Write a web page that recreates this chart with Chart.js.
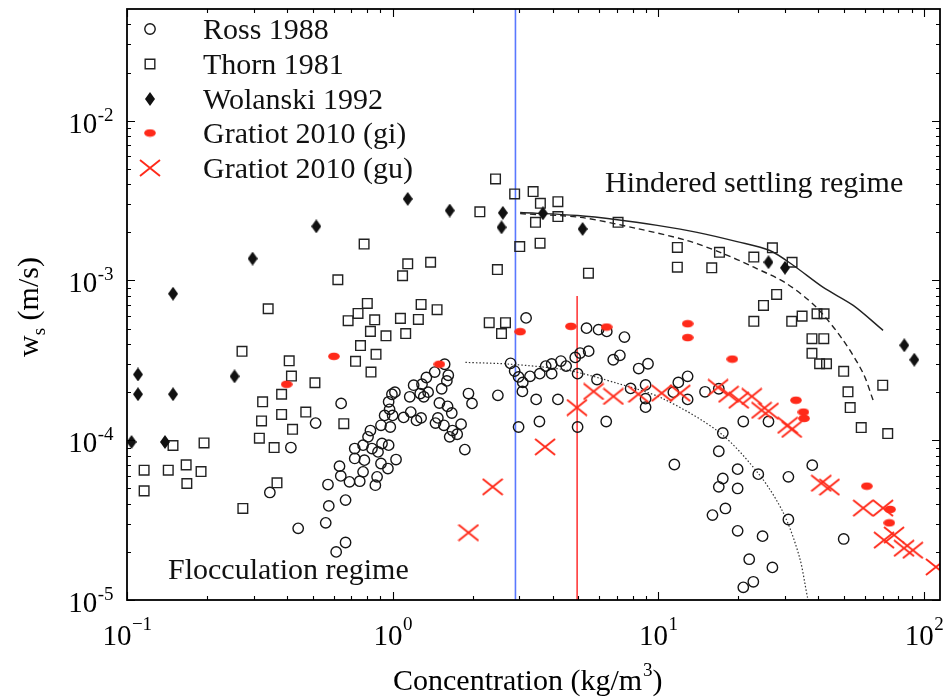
<!DOCTYPE html>
<html>
<head>
<meta charset="utf-8">
<script src="https://cdn.jsdelivr.net/npm/chart.js@4.4.1/dist/chart.umd.min.js"></script>
<style>
  html, body { margin: 0; padding: 0; background: #fff; }
</style>
</head>
<body>
<canvas id="chart" width="949" height="697"></canvas>
<script>
// --- data ---
const rossX = [0.345,0.414,0.441,0.513,0.560,0.575,0.571,0.613,0.665,0.665,
  0.640,0.631,0.638,0.688,0.752,0.774,0.720,0.720,0.783,0.774,
  0.836,0.808,0.825,0.881,0.912,0.966,0.904,0.874,0.861,0.960,
  1.03,0.904,0.933,0.980,1.00,0.974,0.966,0.994,1.02,1.10,
  1.16,1.17,1.20,1.23,1.57,1.62,1.60,1.53,1.44,1.34,
  1.29,1.36,1.27,1.31,1.28,1.50,1.61,1.67,1.48,1.45,
  1.56,1.68,1.64,1.75,1.81,1.87,1.93,1.99,3.18,2.78,
  2.88,2.98,3.09,3.29,3.58,3.77,3.97,4.30,4.50,3.97,
  4.87,5.08,5.47,4.97,5.37,5.96,6.40,7.46,6.77,7.17,
  8.44,9.15,5.88,8.96,7.87,8.96,8.96,3.08,3.47,4.19,
  2.49,2.98,3.57,4.97,6.37,11.9,12.9,11.4,12.9,15.0,
  16.9,17.5,20.9,26.0,11.5,16.9,17.5,16.9,19.9,19.9,
  23.8,30.9,38.0,30.9,17.9,16.0,19.9,24.7,22.0,26.9,
  22.8,20.9,49.9];
const rossY = [4.71e-5,9.0e-5,2.81e-5,1.28e-4,3.04e-5,3.88e-5,5.28e-5,2.0e-5,2.29e-5,4.22e-5,
  1.70e-4,6.88e-5,5.98e-5,5.49e-5,5.54e-5,6.34e-5,7.69e-5,8.87e-5,7.50e-5,9.31e-5,
  8.87e-5,1.05e-4,1.15e-4,8.45e-5,9.54e-5,9.31e-5,7.15e-5,5.90e-5,5.23e-5,6.65e-5,
  7.57e-5,1.24e-4,1.43e-4,1.21e-4,1.43e-4,1.56e-4,1.74e-4,1.94e-4,2.0e-4,1.39e-4,
  1.87e-4,1.50e-4,2.21e-4,1.33e-4,2.99e-4,2.55e-4,2.35e-4,2.10e-4,2.67e-4,2.47e-4,
  2.24e-4,2.0e-4,1.96e-4,1.87e-4,1.38e-4,1.71e-4,1.63e-4,1.48e-4,1.38e-4,1.28e-4,
  1.24e-4,1.15e-4,1.05e-4,1.09e-4,1.26e-4,8.74e-5,1.96e-4,1.70e-4,5.83e-4,3.03e-4,
  2.71e-4,2.49e-4,2.30e-4,2.51e-4,2.61e-4,2.91e-4,3.0e-4,3.13e-4,2.91e-4,2.61e-4,
  3.30e-4,3.51e-4,3.61e-4,2.61e-4,5.03e-4,4.92e-4,4.80e-4,4.42e-4,3.19e-4,3.40e-4,
  2.81e-4,3.01e-4,2.40e-4,2.22e-4,2.11e-4,1.82e-4,1.61e-4,2.02e-4,1.80e-4,1.80e-4,
  1.91e-4,1.21e-4,1.31e-4,1.21e-4,1.31e-4,2.30e-4,2.51e-4,2.0e-4,1.80e-4,2.01e-4,
  2.10e-4,1.11e-4,1.31e-4,1.31e-4,7.05e-5,8.53e-5,5.76e-5,5.11e-5,6.59e-5,4.99e-5,
  6.13e-5,5.90e-5,6.98e-5,3.19e-5,3.74e-5,3.40e-5,2.71e-5,2.51e-5,1.80e-5,1.60e-5,
  1.30e-5,1.20e-5,2.41e-5];

const thornX = [0.116,0.116,0.149,0.143,0.167,0.168,0.190,0.195,0.273,0.315,
  0.321,0.324,0.358,0.367,0.382,0.382,0.420,0.471,0.510,0.655,
  0.271,0.340,0.408,0.416,0.622,0.781,0.680,0.741,0.803,0.856,
  0.825,0.757,0.725,0.829,0.866,0.944,1.07,1.12,1.09,1.14,
  1.28,1.25,1.39,1.47,2.13,2.44,2.88,3.38,3.60,4.19,
  4.19,3.45,3.01,3.59,2.48,2.31,2.66,2.57,5.46,7.06,
  11.8,11.8,15.9,17.0,22.9,26.9,31.9,27.9,24.9,22.9,
  31.8,34.8,39.6,42.1,37.9,42.0,37.9,40.5,43.0,49.9,
  51.8,52.8,58.1,70.0,73.1];
const thornY = [6.49e-5,4.82e-5,9.27e-5,6.49e-5,7.01e-5,5.36e-5,6.37e-5,9.62e-5,3.74e-5,1.03e-4,
  1.32e-4,1.74e-4,8.99e-5,5.41e-5,1.94e-4,1.45e-4,1.17e-4,1.50e-4,2.29e-4,1.27e-4,
  3.60e-4,6.65e-4,3.14e-4,2.52e-4,1.01e-3,1.69e-3,5.60e-4,6.22e-4,7.18e-4,5.67e-4,
  4.80e-4,3.91e-4,3.12e-4,2.67e-4,3.45e-4,4.50e-4,5.79e-4,4.65e-4,1.07e-3,1.27e-3,
  7.08e-4,5.70e-4,1.30e-3,6.56e-4,2.69e-3,4.32e-3,3.48e-3,3.60e-3,3.04e-3,3.11e-3,
  2.51e-3,2.31e-3,1.63e-3,1.71e-3,1.17e-3,5.44e-4,5.44e-4,4.65e-4,1.11e-3,2.31e-3,
  1.61e-3,1.21e-3,1.20e-3,1.50e-3,1.40e-3,1.60e-3,1.30e-3,8.18e-4,6.98e-4,5.55e-4,
  5.55e-4,5.98e-4,6.19e-4,6.19e-4,4.32e-4,4.32e-4,3.50e-4,3.01e-4,3.01e-4,2.70e-4,
  2.01e-4,1.60e-4,1.20e-4,2.21e-4,1.10e-4];

const wolanskiX = [0.104,0.110,0.110,0.139,0.149,0.149,0.254,0.297,0.516,1.14,
  1.64,2.60,2.57,3.68,5.19,26.0,30.0,84.4,92.0];
const wolanskiY = [9.75e-5,2.58e-4,1.94e-4,9.75e-5,1.94e-4,8.26e-4,2.51e-4,1.37e-3,2.18e-3,3.24e-3,
  2.74e-3,2.65e-3,2.15e-3,2.63e-3,2.10e-3,1.30e-3,1.20e-3,3.93e-4,3.19e-4];

const giX = [0.399,0.601,1.50,3.02,4.69,6.39,12.9,12.9,19.0,33.0,35.2,35.4,61.0,74.6,74.1];
const giY = [2.24e-4,3.35e-4,2.99e-4,4.78e-4,5.16e-4,5.11e-4,5.36e-4,4.39e-4,3.22e-4,1.78e-4,
  1.50e-4,1.37e-4,5.16e-5,3.69e-5,3.04e-5];

const guX = [1.93,2.38,3.75,4.94,5.71,6.78,8.42,10.3,12.1,16.8,18.4,20.1,22.5,24.5,26.0,
  30.7,31.8,41.1,44.1,59.1,70.2,70.8,77.2,84.2,90.9,111];
const guY = [2.64e-5,5.11e-5,9.08e-5,1.60e-4,2.02e-4,1.88e-4,1.94e-4,1.97e-4,1.97e-4,2.14e-4,
  1.94e-4,1.78e-4,1.88e-4,1.54e-4,1.52e-4,1.24e-4,1.17e-4,5.38e-5,5.09e-5,3.76e-5,
  3.76e-5,2.37e-5,2.55e-5,2.11e-5,2.05e-5,1.61e-5];

// model curves
const solidX = [3.02,4.97,7.02,9.92,14.0,19.8,26.3,32.3,41.8,54.2,70.2];
const solidY = [2.66e-3,2.55e-3,2.40e-3,2.21e-3,2.0e-3,1.75e-3,1.54e-3,1.24e-3,9.04e-4,6.98e-4,4.87e-4];
const dashX = [3.02,5.10,8.35,12.8,17.1,22.9,30.4,39.4,49.7,59.1,64.4];
const dashY = [2.62e-3,2.48e-3,2.11e-3,1.78e-3,1.50e-3,1.21e-3,9.57e-4,6.78e-4,4.22e-4,2.62e-4,1.78e-4];
const dotX = [1.88,2.79,4.56,7.02,10.35,17.1,24.1,29.6,34.0,36.5,36.8];
const dotY = [3.07e-4,2.99e-4,2.74e-4,2.27e-4,1.83e-4,1.11e-4,6.04e-5,3.50e-5,1.86e-5,1.03e-5,1.0e-5];

// vertical markers
const blueX = [2.9, 2.9];
const blueY = [1e-5, 0.05];
const redX = [4.95, 4.95];
const redY = [1e-5, 8.0e-4];

const legendLabels = ['Ross 1988', 'Thorn 1981', 'Wolanski 1992', 'Gratiot 2010 (gi)', 'Gratiot 2010 (gu)'];
const xDecades = [0.1, 1, 10, 100];
const xDecadeExp = ['\u22121', '0', '1', '2'];
const yDecades = [1e-5, 1e-4, 1e-3, 1e-2];
const yDecadeExp = ['-5', '-4', '-3', '-2'];
const minorSteps = [2, 3, 4, 5, 6, 7, 8, 9];

const RED = '#ff2a1a';
const FONT = '"Liberation Serif", "Times New Roman", serif';

function pts(xs, ys) { return xs.map((v, i) => ({ x: v, y: ys[i] })); }

function markCanvas(w, h, draw) {
    const c = document.createElement('canvas');
    c.width = w; c.height = h;
    draw(c.getContext('2d'), w, h);
    return c;
}
const diamondImg = markCanvas(10, 14, (g, w, h) => {
    g.fillStyle = '#111';
    g.beginPath();
    g.moveTo(w / 2, 0); g.lineTo(w, h / 2); g.lineTo(w / 2, h); g.lineTo(0, h / 2);
    g.closePath(); g.fill();
});
const blobImg = markCanvas(12, 9, (g, w, h) => {
    g.fillStyle = RED;
    g.beginPath();
    g.ellipse(w / 2, h / 2, 5.8, 3.8, 0, 0, 2 * Math.PI);
    g.fill();
});
const crossImg = markCanvas(22, 18, (g, w, h) => {
    g.strokeStyle = RED; g.lineWidth = 1.9;
    g.beginPath();
    g.moveTo(1, 1); g.lineTo(w - 1, h - 1);
    g.moveTo(w - 1, 1); g.lineTo(1, h - 1);
    g.stroke();
});

const markerStyles = [
    { pointStyle: 'circle', radius: 5.2, borderWidth: 1.4, borderColor: '#151515', backgroundColor: 'rgba(0,0,0,0)' },
    { pointStyle: 'rect', radius: 6.8, borderWidth: 1.4, borderColor: '#222', backgroundColor: 'rgba(0,0,0,0)' },
    { pointStyle: diamondImg, radius: 6, borderWidth: 0, borderColor: '#111', backgroundColor: '#111' },
    { pointStyle: blobImg, radius: 5, borderWidth: 0, borderColor: RED, backgroundColor: RED },
    { pointStyle: crossImg, radius: 9, borderWidth: 0, borderColor: RED, backgroundColor: RED }
];

function scatterSet(i, xs, ys) {
    const m = markerStyles[i];
    return {
        label: legendLabels[i],
        data: pts(xs, ys),
        showLine: false,
        pointStyle: m.pointStyle,
        pointRadius: m.radius,
        pointBorderWidth: m.borderWidth,
        pointBorderColor: m.borderColor,
        pointBackgroundColor: m.backgroundColor
    };
}

function lineSet(xs, ys, color, width, dash, tension) {
    return {
        data: pts(xs, ys),
        showLine: true,
        pointRadius: 0,
        borderColor: color,
        borderWidth: width,
        borderDash: dash,
        tension: tension,
        fill: false
    };
}

function drawPow(ctx, exp, x, baseY, align, baseSize, expSize, supRise) {
    ctx.font = baseSize + 'px ' + FONT;
    const w10 = ctx.measureText('10').width;
    ctx.font = expSize + 'px ' + FONT;
    const wExp = ctx.measureText(exp).width;
    const total = w10 + wExp;
    let left = align === 'right' ? x - total : x - total / 2;
    ctx.textAlign = 'left';
    ctx.textBaseline = 'alphabetic';
    ctx.font = baseSize + 'px ' + FONT;
    ctx.fillText('10', left, baseY);
    ctx.font = expSize + 'px ' + FONT;
    ctx.fillText(exp, left + w10 + 0.5, baseY - supRise);
}

// frame, inward ticks, labels, legend, annotations
const decorPlugin = {
    id: 'decor',
    afterDraw(chart) {
        const { ctx, chartArea: a, scales } = chart;
        const xs = scales.x, ys = scales.y;
        ctx.save();
        ctx.strokeStyle = '#000';
        ctx.fillStyle = '#000';

        // ticks
        ctx.lineWidth = 1.1;
        const xTick = (v, len) => {
            const px = Math.round(xs.getPixelForValue(v)) + 0.5;
            ctx.beginPath();
            ctx.moveTo(px, a.bottom); ctx.lineTo(px, a.bottom - len);
            ctx.moveTo(px, a.top); ctx.lineTo(px, a.top + len);
            ctx.stroke();
        };
        const yTick = (v, len) => {
            const py = Math.round(ys.getPixelForValue(v)) + 0.5;
            ctx.beginPath();
            ctx.moveTo(a.left, py); ctx.lineTo(a.left + len, py);
            ctx.moveTo(a.right, py); ctx.lineTo(a.right - len, py);
            ctx.stroke();
        };
        xDecades.forEach(d => {
            if (d >= xs.min && d <= xs.max) xTick(d, 8);
            minorSteps.forEach(m => { const v = d * m; if (v > xs.min && v < xs.max) xTick(v, 4); });
        });
        yDecades.forEach(d => {
            if (d >= ys.min && d <= ys.max) yTick(d, 8);
            minorSteps.forEach(m => { const v = d * m; if (v > ys.min && v < ys.max) yTick(v, 4); });
        });

        // frame
        ctx.lineWidth = 1.8;
        ctx.strokeRect(a.left, a.top, a.right - a.left, a.bottom - a.top);

        // tick labels
        xDecades.forEach((d, i) => {
            const px = xs.getPixelForValue(d);
            drawPow(ctx, xDecadeExp[i], px, 645, 'center', 29, 19, 15);
        });
        yDecades.forEach((d, i) => {
            const py = ys.getPixelForValue(d);
            drawPow(ctx, yDecadeExp[i], 113, py + 12, 'right', 29, 19, 12);
        });

        // x title
        ctx.textAlign = 'left';
        ctx.textBaseline = 'alphabetic';
        ctx.font = '30px ' + FONT;
        let tx = 393;
        const t1 = 'Concentration (kg/m';
        ctx.fillText(t1, tx, 690);
        tx += ctx.measureText(t1).width;
        ctx.font = '19px ' + FONT;
        ctx.fillText('3', tx + 1, 676);
        tx += ctx.measureText('3').width + 1;
        ctx.font = '30px ' + FONT;
        ctx.fillText(')', tx, 690);

        // y title (rotated)
        ctx.save();
        ctx.translate(38, 307);
        ctx.rotate(-Math.PI / 2);
        ctx.font = '30px ' + FONT;
        const wW = ctx.measureText('w').width;
        const wRest = ctx.measureText(' (m/s)').width;
        ctx.font = '19px ' + FONT;
        const wS = ctx.measureText('s').width;
        let lx = -(wW + wS + wRest) / 2;
        ctx.font = '30px ' + FONT;
        ctx.fillText('w', lx, 0);
        ctx.font = '19px ' + FONT;
        ctx.fillText('s', lx + wW, 7);
        ctx.font = '30px ' + FONT;
        ctx.fillText(' (m/s)', lx + wW + wS, 0);
        ctx.restore();

        // annotations
        ctx.font = '30px ' + FONT;
        ctx.fillStyle = '#111';
        ctx.fillText('Hindered settling regime', 605, 192);
        ctx.fillText('Flocculation regime', 168, 579);

        // legend
        const rowY = [29, 64, 99, 133, 168];
        legendLabels.forEach((label, i) => {
            const m = markerStyles[i];
            ctx.save();
            ctx.strokeStyle = m.borderColor;
            ctx.fillStyle = m.backgroundColor;
            ctx.lineWidth = m.borderWidth;
            Chart.helpers.drawPoint(ctx, {
                pointStyle: m.pointStyle, radius: m.radius, rotation: 0, borderWidth: m.borderWidth
            }, 150, rowY[i]);
            ctx.restore();
            ctx.fillStyle = '#111';
            ctx.font = '30px ' + FONT;
            ctx.fillText(label, 203, rowY[i] + 10);
        });

        ctx.restore();
    }
};

const ctx = document.getElementById('chart').getContext('2d');
new Chart(ctx, {
    type: 'scatter',
    data: {
        datasets: [
            scatterSet(4, guX, guY),
            scatterSet(3, giX, giY),
            scatterSet(2, wolanskiX, wolanskiY),
            scatterSet(1, thornX, thornY),
            scatterSet(0, rossX, rossY),
            lineSet(solidX, solidY, '#222', 1.4, [], 0.3),
            lineSet(dashX, dashY, '#222', 1.4, [6, 4], 0.3),
            lineSet(dotX, dotY, '#333', 1.2, [1.5, 2], 0.3),
            lineSet(blueX, blueY, '#5a78ff', 1.6, [], 0),
            lineSet(redX, redY, '#ff3b3b', 1.6, [], 0)
        ]
    },
    options: {
        responsive: false,
        animation: false,
        layout: { padding: { top: 8, right: 4, left: 0, bottom: 0 } },
        plugins: { legend: { display: false }, tooltip: { enabled: false } },
        scales: {
            x: {
                type: 'logarithmic', min: 0.1, max: 115,
                grid: { display: false }, border: { display: false },
                ticks: { display: false },
                afterFit(scale) { scale.height = 97; }
            },
            y: {
                type: 'logarithmic', min: 1e-5, max: 0.05,
                grid: { display: false }, border: { display: false },
                ticks: { display: false },
                afterFit(scale) { scale.width = 127; }
            }
        }
    },
    plugins: [decorPlugin]
});
</script>
</body>
</html>
